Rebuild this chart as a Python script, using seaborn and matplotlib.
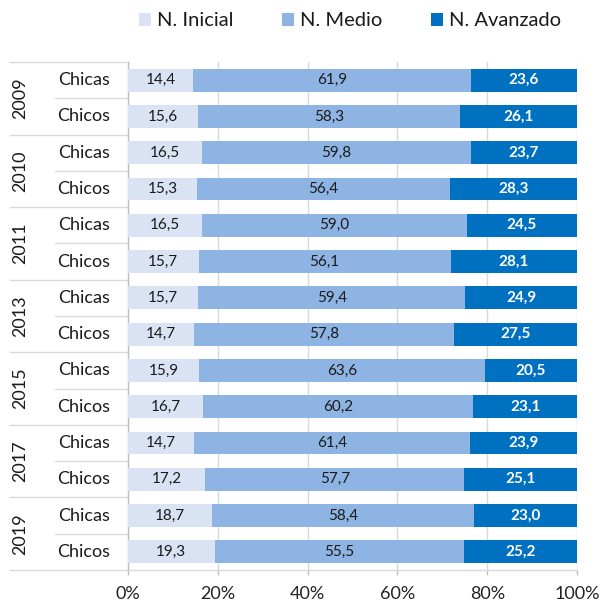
import matplotlib
matplotlib.use("Agg")
import matplotlib.pyplot as plt
import seaborn as sns
import pandas as pd
import numpy as np
from matplotlib.patches import Patch
from matplotlib.lines import Line2D
import matplotlib.transforms as mtransforms

years = ["2009", "2010", "2011", "2013", "2015", "2017", "2019"]
groups = ["Chicas", "Chicos"]
inicial = [14.4, 15.6, 16.5, 15.3, 16.5, 15.7, 15.7, 14.7, 15.9, 16.7, 14.7, 17.2, 18.7, 19.3]
medio = [61.9, 58.3, 59.8, 56.4, 59.0, 56.1, 59.4, 57.8, 63.6, 60.2, 61.4, 57.7, 58.4, 55.5]
avanzado = [23.6, 26.1, 23.7, 28.3, 24.5, 28.1, 24.9, 27.5, 20.5, 23.1, 23.9, 25.1, 23.0, 25.2]
series = ["N. Inicial", "N. Medio", "N. Avanzado"]
ticks = [0, 20, 40, 60, 80, 100]
tick_labels = ["0%", "20%", "40%", "60%", "80%", "100%"]

colors = ["#DAE3F3", "#8EB4E3", "#0070C0"]

sns.set_theme(style="white")
plt.rcParams["font.family"] = ["Lato", "DejaVu Sans"]

rows = [f"{y} {g}" for y in years for g in groups]
a = np.array(inicial); b = np.array(medio); c = np.array(avanzado)
tot = a + b + c
pa = a / tot * 100; pb = b / tot * 100; pc = c / tot * 100
df = pd.DataFrame({"row": rows, "c1": pa, "c2": pa + pb, "c3": pa + pb + pc})

fig = plt.figure(figsize=(6.0, 6.08), dpi=100)
ax = fig.add_axes([128/600, 1-570/608, (577-128)/600, (570-62)/608])

for col, colr in zip(["c3", "c2", "c1"], colors[::-1]):
    sns.barplot(data=df, x=col, y="row", order=rows, color=colr, orient="h",
                width=0.63, ax=ax, saturation=1, linewidth=0, zorder=3)

ax.set_xlim(0, 100)
ax.set_ylim(len(rows) - 0.5, -0.5)
ax.set_xticks(ticks)
ax.set_xticklabels(tick_labels, fontsize=13, color="#222222")
ax.tick_params(axis="x", length=3.6, color="#BFBFBF", width=1, pad=8, bottom=True)
ax.set_yticks([])
ax.set_xlabel(""); ax.set_ylabel("")
for s in ["top", "right"]:
    ax.spines[s].set_visible(False)
for s in ["left", "bottom"]:
    ax.spines[s].set_color("#BFBFBF")
    ax.spines[s].set_linewidth(1)
ax.spines["bottom"].set_color("#D9D9D9")
ax.xaxis.grid(True, color="#D9D9D9", linewidth=1)
ax.set_axisbelow(True)

# value labels
for i in range(len(rows)):
    ax.text(pa[i] / 2, i, f"{inicial[i]:.1f}".replace(".", ","), ha="center", va="center",
            fontsize=11, color="#1a1a1a", zorder=5)
    ax.text(pa[i] + pb[i] / 2, i, f"{medio[i]:.1f}".replace(".", ","), ha="center", va="center",
            fontsize=11, color="#1a1a1a", zorder=5)
    ax.text(pa[i] + pb[i] + pc[i] / 2, i, f"{avanzado[i]:.1f}".replace(".", ","), ha="center",
            va="center", fontsize=11, color="white", fontweight="bold", zorder=5)

# multi-level category axis
trans = mtransforms.blended_transform_factory(fig.transFigure, ax.transData)
xl_full = 10/600; xl_inner = 55/600; xr = 128/600
for k, y in enumerate(years):
    top = 2*k - 0.5
    ax.add_line(Line2D([xl_full, xr], [top, top], transform=trans, color="#D9D9D9",
                       linewidth=1, clip_on=False))
    ax.add_line(Line2D([xl_inner, xr], [top + 1, top + 1], transform=trans, color="#D9D9D9",
                       linewidth=1, clip_on=False))
    ax.text(20/600, 2*k + 0.5, y, transform=trans, rotation=90, ha="center", va="center",
            fontsize=13, color="#1a1a1a")
    for j, g in enumerate(groups):
        ax.text(84/600, 2*k + j, g, transform=trans, ha="center", va="center",
                fontsize=13, color="#1a1a1a")
ax.add_line(Line2D([xl_full, xr], [len(rows) - 0.5]*2, transform=trans, color="#D9D9D9",
                   linewidth=1, clip_on=False))

handles = [Patch(facecolor=c_, edgecolor="none", label=s_) for c_, s_ in zip(colors, series)]
fig.legend(handles=handles, loc="center", bbox_to_anchor=(350/600, 1-21/608), ncol=3,
           frameon=False, fontsize=14.5, handlelength=0.6, handleheight=0.6,
           handletextpad=0.3, columnspacing=2.4, labelcolor="#1a1a1a")

fig.savefig("out.png", dpi=100)
